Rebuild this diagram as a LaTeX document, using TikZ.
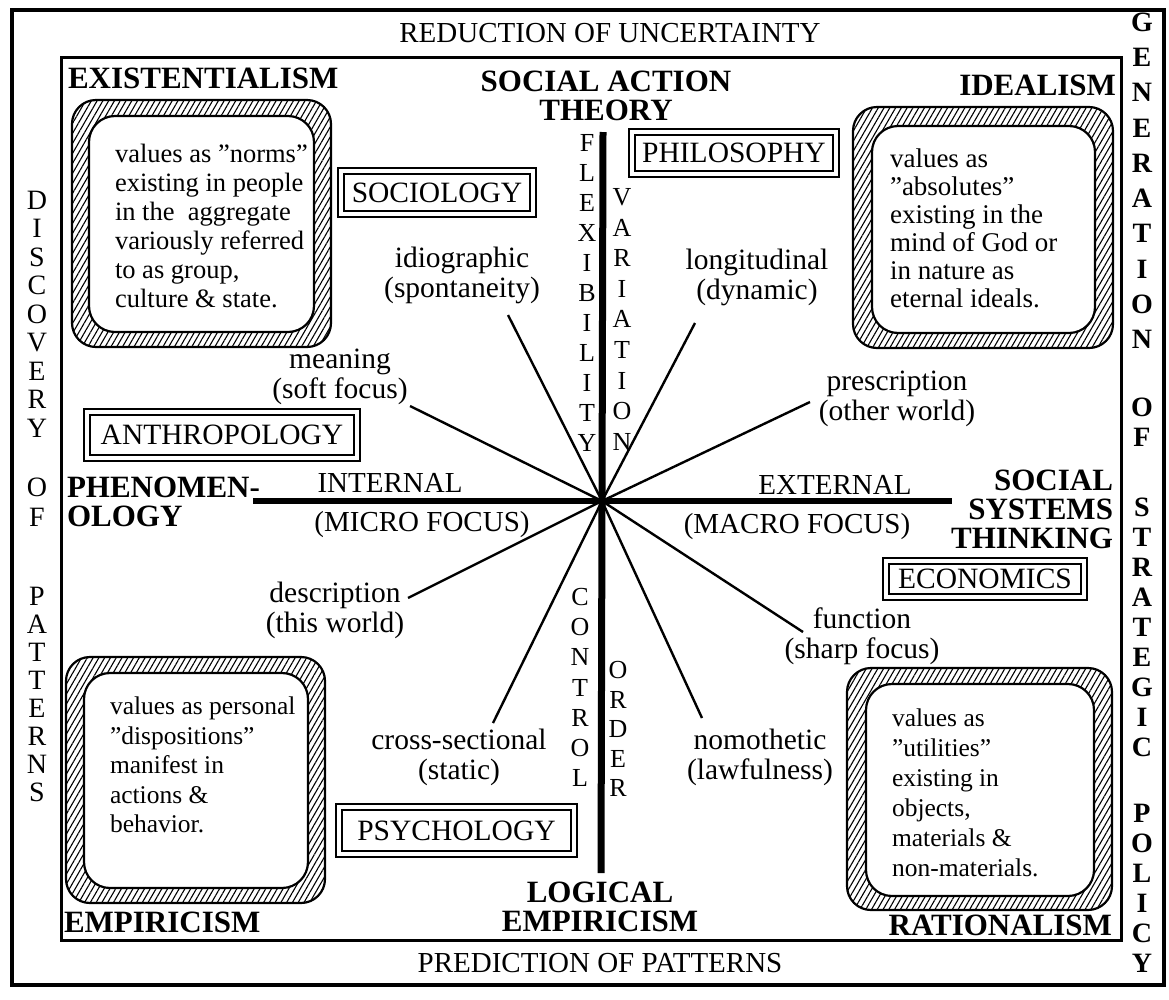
\documentclass[tikz,border=0pt]{standalone}
\usepackage{fontspec}
\setmainfont{Liberation Serif}
\usetikzlibrary{patterns.meta}
\begin{document}
\begin{tikzpicture}[x=1pt,y=-1pt,
  every node/.style={inner sep=0pt,outer sep=0pt},
  plain/.style={font=\fontsize{29}{30}\selectfont},
  school/.style={font=\fontsize{31}{29}\selectfont\bfseries},
  spokelabel/.style={font=\fontsize{29.5}{30}\selectfont,align=center},
  valuetext/.style={align=left,anchor=west},
  colletter/.style={font=\fontsize{28}{28}\selectfont},
  boldletter/.style={font=\fontsize{28}{28}\selectfont\bfseries},
  axisletter/.style={font=\fontsize{26}{26}\selectfont},
  discipline/.style={draw,line width=1.8pt,double,double distance=4pt,
    font=\fontsize{29.5}{30}\selectfont},
  spoke/.style={line width=2.4pt},
  axisline/.style={line width=6.5pt},
  band/.style={pattern={Lines[angle=60,distance=5pt,line width=1.1pt]},even odd rule},
  rim/.style={line width=2.2pt}
]
% page
\path[fill=white] (0,0) rectangle (1169,999);
\useasboundingbox (0,0) rectangle (1169,999);

% frames
\draw[line width=4pt] (12,10) rectangle (1164,985);
\draw[line width=3pt] (61,57) rectangle (1121,940);

% outer captions
\node[plain] (reduction) at (610,33) {REDUCTION OF UNCERTAINTY};
\node[plain] (prediction) at (600,963) {PREDICTION OF PATTERNS};

% left column
\foreach \ch [count=\i] in {D,I,S,C,O,V,E,R,Y}
  \node[colletter] (disc\i) at (37,{200+28.5*(\i-1)}) {\ch};
\node[colletter] (lof1) at (37,487) {O};
\node[colletter] (lof2) at (37,517) {F};
\foreach \ch [count=\i] in {P,A,T,T,E,R,N,S}
  \node[colletter] (patt\i) at (37,{596+28*(\i-1)}) {\ch};

% right column
\foreach \ch [count=\i] in {G,E,N,E,R,A,T,I,O,N}
  \node[boldletter] (gen\i) at (1142,{22+35.3*(\i-1)}) {\ch};
\node[boldletter] (rof1) at (1142,407) {O};
\node[boldletter] (rof2) at (1142,437) {F};
\foreach \ch [count=\i] in {S,T,R,A,T,E,G,I,C}
  \node[boldletter] (strat\i) at (1142,{507+30*(\i-1)}) {\ch};
\foreach \ch [count=\i] in {P,O,L,I,C,Y}
  \node[boldletter] (pol\i) at (1142,{813+30*(\i-1)}) {\ch};

% schools of thought
\node[school,anchor=west] (existentialism) at (68,78) {EXISTENTIALISM};
\node[school,anchor=east] (idealism) at (1116,85) {IDEALISM};
\node[school,anchor=west] (empiricism) at (64,922) {EMPIRICISM};
\node[school,anchor=east] (rationalism) at (1112,925) {RATIONALISM};
\node[school,align=center] (sat) at (606,96) {SOCIAL ACTION\\THEORY};
\node[school,align=center] (le) at (600,907) {LOGICAL\\EMPIRICISM};
\node[school,align=left,anchor=west] (phen) at (67,502) {PHENOMEN-\\OLOGY};
\node[school,align=right,anchor=east] (sst) at (1113,509) {SOCIAL\\SYSTEMS\\THINKING};

% value boxes with hatched rims
\fill[band,rounded corners=24pt] (72,100) rectangle (331,347)
  [rounded corners=26pt] (89,116) rectangle (314,332);
\draw[rim,rounded corners=24pt] (72,100) rectangle (331,347);
\draw[rim,rounded corners=26pt] (89,116) rectangle (314,332);
\node[valuetext,font=\fontsize{26.5}{29}\selectfont] (norms) at (115,226)
  {values as ”norms”\\existing in people\\in the\ \ aggregate\\variously referred\\to as group,\\culture \& state.};

\fill[band,rounded corners=24pt] (853,107) rectangle (1113,348)
  [rounded corners=26pt] (872,126) rectangle (1095,333);
\draw[rim,rounded corners=24pt] (853,107) rectangle (1113,348);
\draw[rim,rounded corners=26pt] (872,126) rectangle (1095,333);
\node[valuetext,font=\fontsize{27}{28}\selectfont] (absolutes) at (890,228)
  {values as\\”absolutes”\\existing in the\\mind of God or\\in nature as\\eternal ideals.};

\fill[band,rounded corners=24pt] (66,657) rectangle (325,903)
  [rounded corners=26pt] (84,673) rectangle (308,888);
\draw[rim,rounded corners=24pt] (66,657) rectangle (325,903);
\draw[rim,rounded corners=26pt] (84,673) rectangle (308,888);
\node[valuetext,font=\fontsize{25.5}{29.5}\selectfont] (dispositions) at (110,765)
  {values as personal\\”dispositions”\\manifest in\\actions \&\\behavior.};

\fill[band,rounded corners=24pt] (847,668) rectangle (1112,910)
  [rounded corners=26pt] (866,684) rectangle (1094,896);
\draw[rim,rounded corners=24pt] (847,668) rectangle (1112,910);
\draw[rim,rounded corners=26pt] (866,684) rectangle (1094,896);
\node[valuetext,font=\fontsize{25.5}{30}\selectfont] (utilities) at (892,793)
  {values as\\”utilities”\\existing in\\objects,\\materials \&\\non-materials.};

% disciplines
\node[discipline,minimum width=192.4pt,minimum height=43.4pt] (sociology) at (437,192.5) {SOCIOLOGY};
\node[discipline,minimum width=204.4pt,minimum height=42.4pt] (philosophy) at (734,153) {PHILOSOPHY};
\node[discipline,minimum width=270.4pt,minimum height=46.4pt] (anthropology) at (222,435) {ANTHROPOLOGY};
\node[discipline,minimum width=198.4pt,minimum height=36.4pt] (economics) at (985,579) {ECONOMICS};
\node[discipline,minimum width=235.4pt,minimum height=47.4pt] (psychology) at (456.5,830.5) {PSYCHOLOGY};

% axes
\coordinate (hub) at (602,501);
\coordinate (vtop) at (603,132);
\coordinate (vbot) at (601,873);
\coordinate (hleft) at (253,501);
\coordinate (hright) at (952,501);
\draw[line width=7pt] (vtop) -- (vbot);
\draw[axisline] (hleft) -- (hright);

\node[plain] (internal) at (390,483) {INTERNAL};
\node[plain] (micro) at (422,525) {(MICRO FOCUS)};
\node[plain] (external) at (835,485) {EXTERNAL};
\node[plain] (macro) at (797,527) {(MACRO FOCUS)};

% letters along the vertical axis
\foreach \ch [count=\i] in {F,L,E,X,I,B,I,L,I,T,Y}
  \node[axisletter] (flex\i) at (587,{143+30*(\i-1)}) {\ch};
\foreach \ch [count=\i] in {V,A,R,I,A,T,I,O,N}
  \node[axisletter] (var\i) at (622,{197+30.6*(\i-1)}) {\ch};
\foreach \ch [count=\i] in {C,O,N,T,R,O,L}
  \node[axisletter] (ctrl\i) at (580,{597+30.2*(\i-1)}) {\ch};
\foreach \ch [count=\i] in {O,R,D,E,R}
  \node[axisletter] (ord\i) at (618,{670+29.5*(\i-1)}) {\ch};

% spoke labels
\node[spokelabel] (idio) at (462,275) {idiographic\\(spontaneity)};
\node[spokelabel] (longi) at (757,277) {longitudinal\\(dynamic)};
\node[spokelabel] (meaning) at (340,377) {meaning\\(soft focus)};
\node[spokelabel] (presc) at (897,399) {prescription\\(other world)};
\node[spokelabel] (desc) at (335,610) {description\\(this world)};
\node[spokelabel] (func) at (862,636) {function\\(sharp focus)};
\node[spokelabel] (cross) at (459,757) {cross-sectional\\(static)};
\node[spokelabel] (nomo) at (760,757) {nomothetic\\(lawfulness)};

% spokes
\coordinate (idio-end) at (508,315);
\coordinate (longi-end) at (695,323);
\coordinate (meaning-end) at (410,406);
\coordinate (presc-end) at (810,402);
\coordinate (desc-end) at (408,598);
\coordinate (func-end) at (803,632);
\coordinate (cross-end) at (493,723);
\coordinate (nomo-end) at (702,718);
\foreach \e in {idio,longi,meaning,presc,desc,func,cross,nomo}
  \draw[spoke] (hub) -- (\e-end);
\end{tikzpicture}
\end{document}
